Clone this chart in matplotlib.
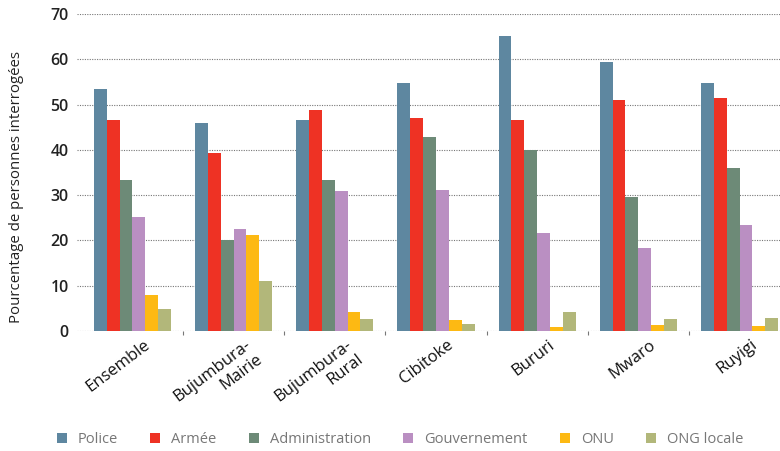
"""
Bar chart: who respondents trust for security, by province
"""

import numpy as np
import matplotlib
matplotlib.use('Agg')
import matplotlib.pyplot as plt
from matplotlib.transforms import ScaledTranslation

# Data
provinces = ['Ensemble', 'Bujumbura-\nMairie', 'Bujumbura-\nRural', 'Cibitoke',
             'Bururi', 'Mwaro', 'Ruyigi']
series = ['Police', 'Armée', 'Administration', 'Gouvernement', 'ONU', 'ONG locale']

police = [53.4, 45.9, 46.6, 54.7, 65.1, 59.4, 54.7]
armee = [46.6, 39.3, 48.8, 47.0, 46.6, 51.0, 51.4]
administration = [33.3, 20.1, 33.3, 42.8, 40.0, 29.6, 36.0]
gouvernement = [25.2, 22.5, 30.9, 31.1, 21.6, 18.3, 23.4]
onu = [7.9, 21.2, 4.2, 2.4, 0.9, 1.3, 1.1]
ong_locale = [4.9, 11.0, 2.6, 1.5, 4.2, 2.6, 2.9]

colors = ['#5e87a0', '#ee3224', '#6d8a77', '#ba8fc2', '#fdb913', '#b2b77a']

plt.rcParams['font.family'] = ['Open Sans', 'DejaVu Sans']

fig = plt.figure(figsize=(7.8, 4.51), dpi=100)
ax = fig.add_axes([0.0987, 0.266, 0.9013, 0.703])

x = np.arange(len(provinces))
width = 0.127
values = [police, armee, administration, gouvernement, onu, ong_locale]

# Draw the six bars of each group
for i, (name, vals) in enumerate(zip(series, values)):
    offset = (i - 2.5) * width
    ax.bar(x + offset, vals, width, color=colors[i], label=name, zorder=3)

ax.set_ylim(0, 70)
ax.set_xlim(-0.548, 6.40)
ax.set_yticks(range(0, 71, 10))
ax.yaxis.grid(True, linestyle=(0, (1, 1.2)), color='#777777', linewidth=0.8, zorder=0)

for side in ['top', 'right', 'left', 'bottom']:
    ax.spines[side].set_visible(False)

ax.tick_params(axis='y', length=0, pad=6, labelsize=11.5, labelcolor='#222222')
for lbl in ax.get_yticklabels():
    lbl.set_fontweight('semibold')

ax.set_xticks(x)
ax.set_xticklabels(provinces, rotation=37, ha='right', rotation_mode='anchor',
                   fontsize=12, color='#111111', multialignment='right')
ax.tick_params(axis='x', length=0, pad=4)
shift = ScaledTranslation(11 / 100, 0, fig.dpi_scale_trans)
for lbl in ax.get_xticklabels():
    lbl.set_transform(lbl.get_transform() + shift)

# Small dotted separators between groups
ax.set_xticks(x[:-1] + 0.5, minor=True)
ax.tick_params(axis='x', which='minor', length=3, width=0.8, color='#777777',
               direction='out')

ax.set_ylabel('Pourcentage de personnes interrogées', fontsize=10.8,
              color='#222222')
ax.yaxis.set_label_coords(-0.076, 0.453)

fig.legend(loc='lower left', bbox_to_anchor=(0.056, -0.02), ncol=6, frameon=False,
           fontsize=10.5, handlelength=0.7, handleheight=0.7, handletextpad=0.75,
           columnspacing=2.2, labelcolor='#777777')

fig.savefig('out.png', dpi=100)
